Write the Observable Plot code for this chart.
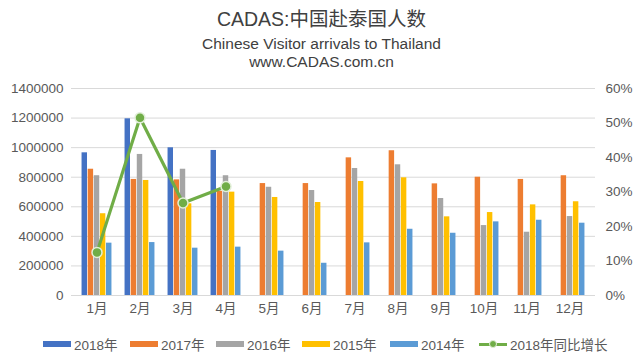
<!DOCTYPE html>
<html>
<head>
<meta charset="utf-8">
<script src="https://cdn.jsdelivr.net/npm/d3@7"></script>
<script src="https://cdn.jsdelivr.net/npm/@observablehq/plot@0.6"></script>
<style>
  html, body { margin: 0; padding: 0; background: #fff; }
  body { width: 643px; height: 357px; overflow: hidden; font-family: "Liberation Sans", Arial, "Noto Sans CJK SC", sans-serif; color: #404040; }
  #head { height: 75px; text-align: center; position: relative; }
  #t1 { position: absolute; left: 0; right: 0; top: 7px; font-size: 19.5px; line-height: 24px; font-family: "Liberation Sans", "Noto Sans CJK SC", sans-serif; color: #404040; }
  #t2 { position: absolute; left: 0; right: 0; top: 35px; font-size: 15.5px; line-height: 18px; color: #404040; }
  #t3 { position: absolute; left: 0; right: 0; top: 53px; font-size: 15.5px; line-height: 18px; color: #404040; }
  #legend { height: 32px; position: relative; font-size: 13.5px; color: #595959; font-family: "Liberation Sans", "Noto Sans CJK SC", sans-serif; }
  .li { position: absolute; top: 9px; display: flex; align-items: center; white-space: nowrap; }
  .sw { display: inline-block; width: 28px; height: 6px; margin-right: 3px; }
  .lsw { position: relative; width: 28px; height: 6px; margin-right: 3px; }
  .lsw .ln { position: absolute; left: 0; right: 0; top: 1.5px; height: 3px; background: #70AD47; }
  .lsw .dt { position: absolute; left: 10px; top: -1px; width: 6px; height: 6px; border-radius: 50%; background: #70AD47; border: 1px solid #E2EFD9; }
</style>
</head>
<body>
<div id="head">
  <div id="t1">CADAS:中国赴泰国人数</div>
  <div id="t2">Chinese Visitor arrivals to Thailand</div>
  <div id="t3">www.CADAS.com.cn</div>
</div>
<div id="chart"></div>
<div id="legend"></div>
<script>
const months = ["1月","2月","3月","4月","5月","6月","7月","8月","9月","10月","11月","12月"];
const seriesNames = ["2018年","2017年","2016年","2015年","2014年"];
const v2018 = [965000, 1195000, 999000, 981000, null, null, null, null, null, null, null, null];
const v2017 = [854000, 785000, 782000, 705000, 757000, 757000, 931000, 979000, 755000, 800000, 785000, 810000];
const v2016 = [810000, 954000, 854000, 810000, 732000, 710000, 859000, 884000, 656000, 473000, 428000, 534000];
const v2015 = [553000, 778000, 620000, 699000, 663000, 629000, 771000, 796000, 532000, 561000, 613000, 634000];
const v2014 = [354000, 358000, 320000, 327000, 300000, 218000, 356000, 448000, 421000, 498000, 509000, 489000];
const growth2018 = [12.5, 51.5, 26.8, 31.6];
const growthName = "2018年同比增长";
const leftTicks = [0, 200000, 400000, 600000, 800000, 1000000, 1200000, 1400000];
const rightTicks = [0, 10, 20, 30, 40, 50, 60];

const colors = ["#4472C4", "#ED7D31", "#A5A5A5", "#FFC000", "#5B9BD5"];
const green = "#70AD47";
const allSeries = [v2018, v2017, v2016, v2015, v2014];

const W = 643, H = 250;
const mL = 71, mR = 48, mT = 13, mB = 30;
const band = (W - mL - mR) / months.length;
const groupW = band * 0.70;
const barW = groupW / allSeries.length;
const groupStart = (band - groupW) / 2;

const yMax = 1400000, pctMax = 60;
const pctToY = p => p * yMax / pctMax;

const bars = allSeries.map((vals, i) => {
  const data = months.map((m, j) => ({month: m, value: vals[j], series: seriesNames[i]})).filter(d => d.value != null);
  return Plot.barY(data, {
    x: "month", y: "value", fill: colors[i],
    insetLeft: groupStart + i * barW,
    insetRight: band - groupStart - (i + 1) * barW
  });
});

const gdata = growth2018.map((g, j) => ({month: months[j], y: pctToY(g), g}));

const chart = Plot.plot({
  width: W, height: H,
  marginLeft: mL, marginRight: mR, marginTop: mT, marginBottom: mB,
  style: {fontFamily: '"Liberation Sans", Arial, "Noto Sans CJK SC", sans-serif', fontSize: "13.5px", color: "#595959", background: "#fff"},
  x: {domain: months, padding: 0, label: null},
  y: {domain: [0, yMax], label: null},
  marks: [
    Plot.ruleY(leftTicks, {stroke: "#D9D9D9", strokeWidth: 1}),
    Plot.axisY({ticks: leftTicks, tickFormat: d => String(d), tickSize: 0, tickPadding: 8, label: null, fontSize: 13.5}),
    Plot.axisY({anchor: "right", ticks: rightTicks.map(pctToY), tickFormat: d => Math.round(d * pctMax / yMax) + "%", tickSize: 0, tickPadding: 10, label: null, fontSize: 13.5}),
    Plot.axisX({tickSize: 0, tickPadding: 8, label: null, fontSize: 13.5}),
    ...bars,
    Plot.line(gdata, {x: "month", y: "y", stroke: green, strokeWidth: 3.2}),
    Plot.dot(gdata, {x: "month", y: "y", r: 5, fill: green, stroke: "#E2EFD9", strokeWidth: 1.5})
  ]
});
document.getElementById("chart").appendChild(chart);

// legend
const legend = document.getElementById("legend");
const lx = [43, 130, 216, 302, 390];
seriesNames.forEach((n, i) => {
  const d = document.createElement("div");
  d.className = "li"; d.style.left = lx[i] + "px";
  d.innerHTML = `<span class="sw" style="background:${colors[i]}"></span><span>${n}</span>`;
  legend.appendChild(d);
});
const gd = document.createElement("div");
gd.className = "li"; gd.style.left = "479px";
gd.innerHTML = `<span class="lsw"><span class="ln"></span><span class="dt"></span></span><span>${growthName}</span>`;
legend.appendChild(gd);
</script>
</body>
</html>
